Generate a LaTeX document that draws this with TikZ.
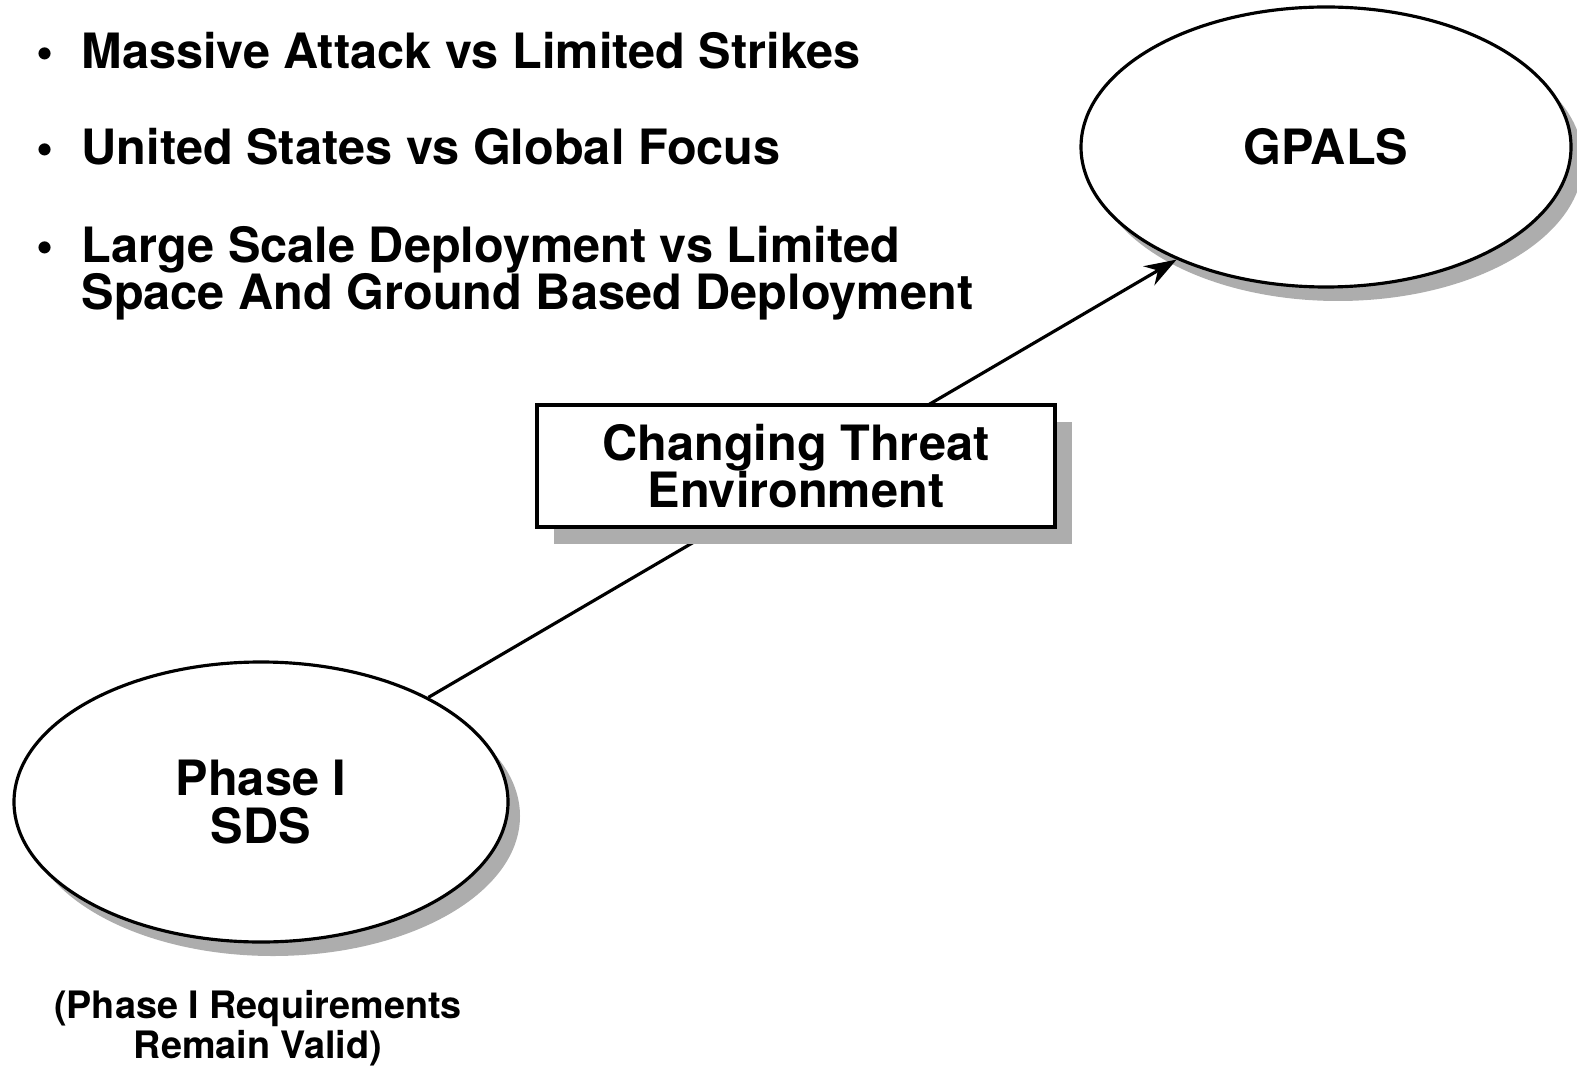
\documentclass[tikz,border=0pt]{standalone}
\usepackage{fontspec}
\setmainfont{TeX Gyre Heros}
\usetikzlibrary{shapes.geometric,shadows,arrows.meta}

\begin{document}
\begin{tikzpicture}[line width=.9pt,
    font=\fontsize{13.85}{13.4}\selectfont\bfseries,
    bubble/.style={ellipse, draw, fill=white, align=center, inner sep=0pt,
        drop shadow={shadow xshift=.12cm, shadow yshift=-.14cm, fill=black!32, opacity=1}},
    item/.style={anchor=base west, inner sep=0pt}]
    \useasboundingbox (0,0) rectangle (15.77,-10.66);
    \node[item] (mass) at (.35,-.69) {\makebox[.45cm][l]{\textbullet}Massive Attack vs Limited Strikes};
    \node[item] (focus) at (.35,-1.65) {\makebox[.45cm][l]{\textbullet}United States vs Global Focus};
    \node[item] (scale) at (.35,-2.63) {\makebox[.45cm][l]{\textbullet}Large Scale Deployment vs Limited};
    \node[item] (space) at (.80,-3.10) {Space And Ground Based Deployment};
    \node[bubble, minimum width=4.94cm, minimum height=2.8cm] (sds) at (2.61,-8.02) {Phase I\\SDS};
    \node[bubble, minimum width=4.9cm, minimum height=2.8cm] (gpals) at (13.26,-1.47) {GPALS};
    \node[font=\fontsize{10.75}{11.4}\selectfont\bfseries, align=center] (valid) at (2.58,-10.28) {(Phase I Requirements\\Remain Valid)};
    \draw[-{Stealth[length=.32cm,width=.22cm]}] (sds.32) -- (gpals.217);
    \node[draw, fill=white, align=center, minimum width=5.18cm, minimum height=1.22cm,
        drop shadow={shadow xshift=.17cm, shadow yshift=-.17cm, fill=black!32, opacity=1}] (threat) at (7.96,-4.66) {Changing Threat\\Environment};
\end{tikzpicture}
\end{document}
